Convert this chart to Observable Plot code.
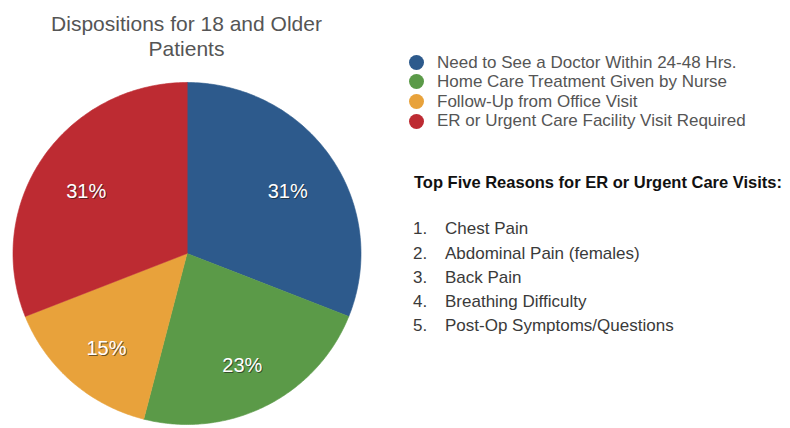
<!DOCTYPE html>
<html>
<head>
<meta charset="utf-8">
<script src="https://cdn.jsdelivr.net/npm/d3@7"></script>
<script src="https://cdn.jsdelivr.net/npm/@observablehq/plot@0.6"></script>
<style>
  html, body { margin: 0; padding: 0; background: #fff; }
  #wrap { position: relative; width: 790px; height: 428px; font-family: "Liberation Sans", Arial, Helvetica, sans-serif; }
  #chart { position: absolute; left: 0; top: 0; }
  #title { position: absolute; left: 0; top: 10.5px; width: 373px; text-align: center; font-size: 21px; line-height: 25px; color: #555; }
  #legend { position: absolute; left: 409px; top: 52.6px; font-size: 17px; line-height: 19.6px; color: #555; }
  #legend .row { display: flex; align-items: center; height: 19.6px; white-space: nowrap; }
  #legend .sw { width: 15px; height: 15px; border-radius: 50%; margin-right: 13px; flex: none; }
  #heading { position: absolute; left: 414px; top: 171.5px; font-size: 16.5px; line-height: 20px; font-weight: bold; color: #111; white-space: nowrap; }
  #list { position: absolute; left: 413px; top: 217.3px; font-size: 17px; line-height: 24.2px; color: #3a3a3a; }
  #list .item { display: flex; white-space: nowrap; }
  #list .num { width: 32px; flex: none; }
</style>
</head>
<body>
<div id="wrap">
  <div id="chart"></div>
  <div id="title">Dispositions for 18 and Older<br>Patients</div>
  <div id="legend"></div>
  <div id="heading">Top Five Reasons for ER or Urgent Care Visits:</div>
  <div id="list"></div>
</div>
<script>
const categories = [
  "Need to See a Doctor Within 24-48 Hrs.",
  "Home Care Treatment Given by Nurse",
  "Follow-Up from Office Visit",
  "ER or Urgent Care Facility Visit Required"
];
const values = [31, 23, 15, 31];
const colors = ["#2d5a8c", "#5b9a48", "#e8a23b", "#bd2b32"];
const reasons = [
  "Chest Pain",
  "Abdominal Pain (females)",
  "Back Pain",
  "Breathing Difficulty",
  "Post-Op Symptoms/Questions"
];

const arcs = d3.pie().sort(null).value(d => d)(values);

// Slice outlines in unit-circle coordinates (angle 0 at 12 o'clock, clockwise)
const slicePts = [];
arcs.forEach((a, i) => {
  const cat = categories[i];
  slicePts.push({cat, x: 0, y: 0});
  const n = 120;
  for (let k = 0; k <= n; k++) {
    const t = a.startAngle + (a.endAngle - a.startAngle) * k / n;
    slicePts.push({cat, x: Math.sin(t), y: Math.cos(t)});
  }
});

const labelR = 0.7;
const labels = arcs.map((a, i) => {
  const m = (a.startAngle + a.endAngle) / 2;
  return {cat: categories[i], x: labelR * Math.sin(m), y: labelR * Math.cos(m), text: values[i] + "%"};
});

const font = "Liberation Sans, Arial, sans-serif";
const chart = Plot.plot({
  width: 790,
  height: 428,
  margin: 0,
  x: {domain: [-1, 1], range: [12.5, 360.5], axis: null},
  y: {domain: [-1, 1], range: [424, 82], axis: null},
  color: {domain: categories, range: colors},
  marks: [
    Plot.line(slicePts, {x: "x", y: "y", z: "cat", fill: "cat", stroke: "cat", strokeWidth: 0.6, curve: "linear-closed"}),
    Plot.text(labels, {x: "x", y: "y", text: "text", fill: "#1a1a1a", fillOpacity: 0.6, dx: 1, dy: 6.5, fontSize: 20, fontFamily: font}),
    Plot.text(labels, {x: "x", y: "y", text: "text", fill: "#ffffff", dy: 5, fontSize: 20, fontFamily: font})
  ]
});
document.getElementById("chart").appendChild(chart);

const legend = document.getElementById("legend");
categories.forEach((c, i) => {
  const row = document.createElement("div");
  row.className = "row";
  const sw = document.createElement("span");
  sw.className = "sw";
  sw.style.background = colors[i];
  const tx = document.createElement("span");
  tx.textContent = c;
  row.appendChild(sw);
  row.appendChild(tx);
  legend.appendChild(row);
});

const list = document.getElementById("list");
reasons.forEach((r, i) => {
  const item = document.createElement("div");
  item.className = "item";
  const num = document.createElement("span");
  num.className = "num";
  num.textContent = (i + 1) + ".";
  const tx = document.createElement("span");
  tx.textContent = r;
  item.appendChild(num);
  item.appendChild(tx);
  list.appendChild(item);
});
</script>
</body>
</html>
